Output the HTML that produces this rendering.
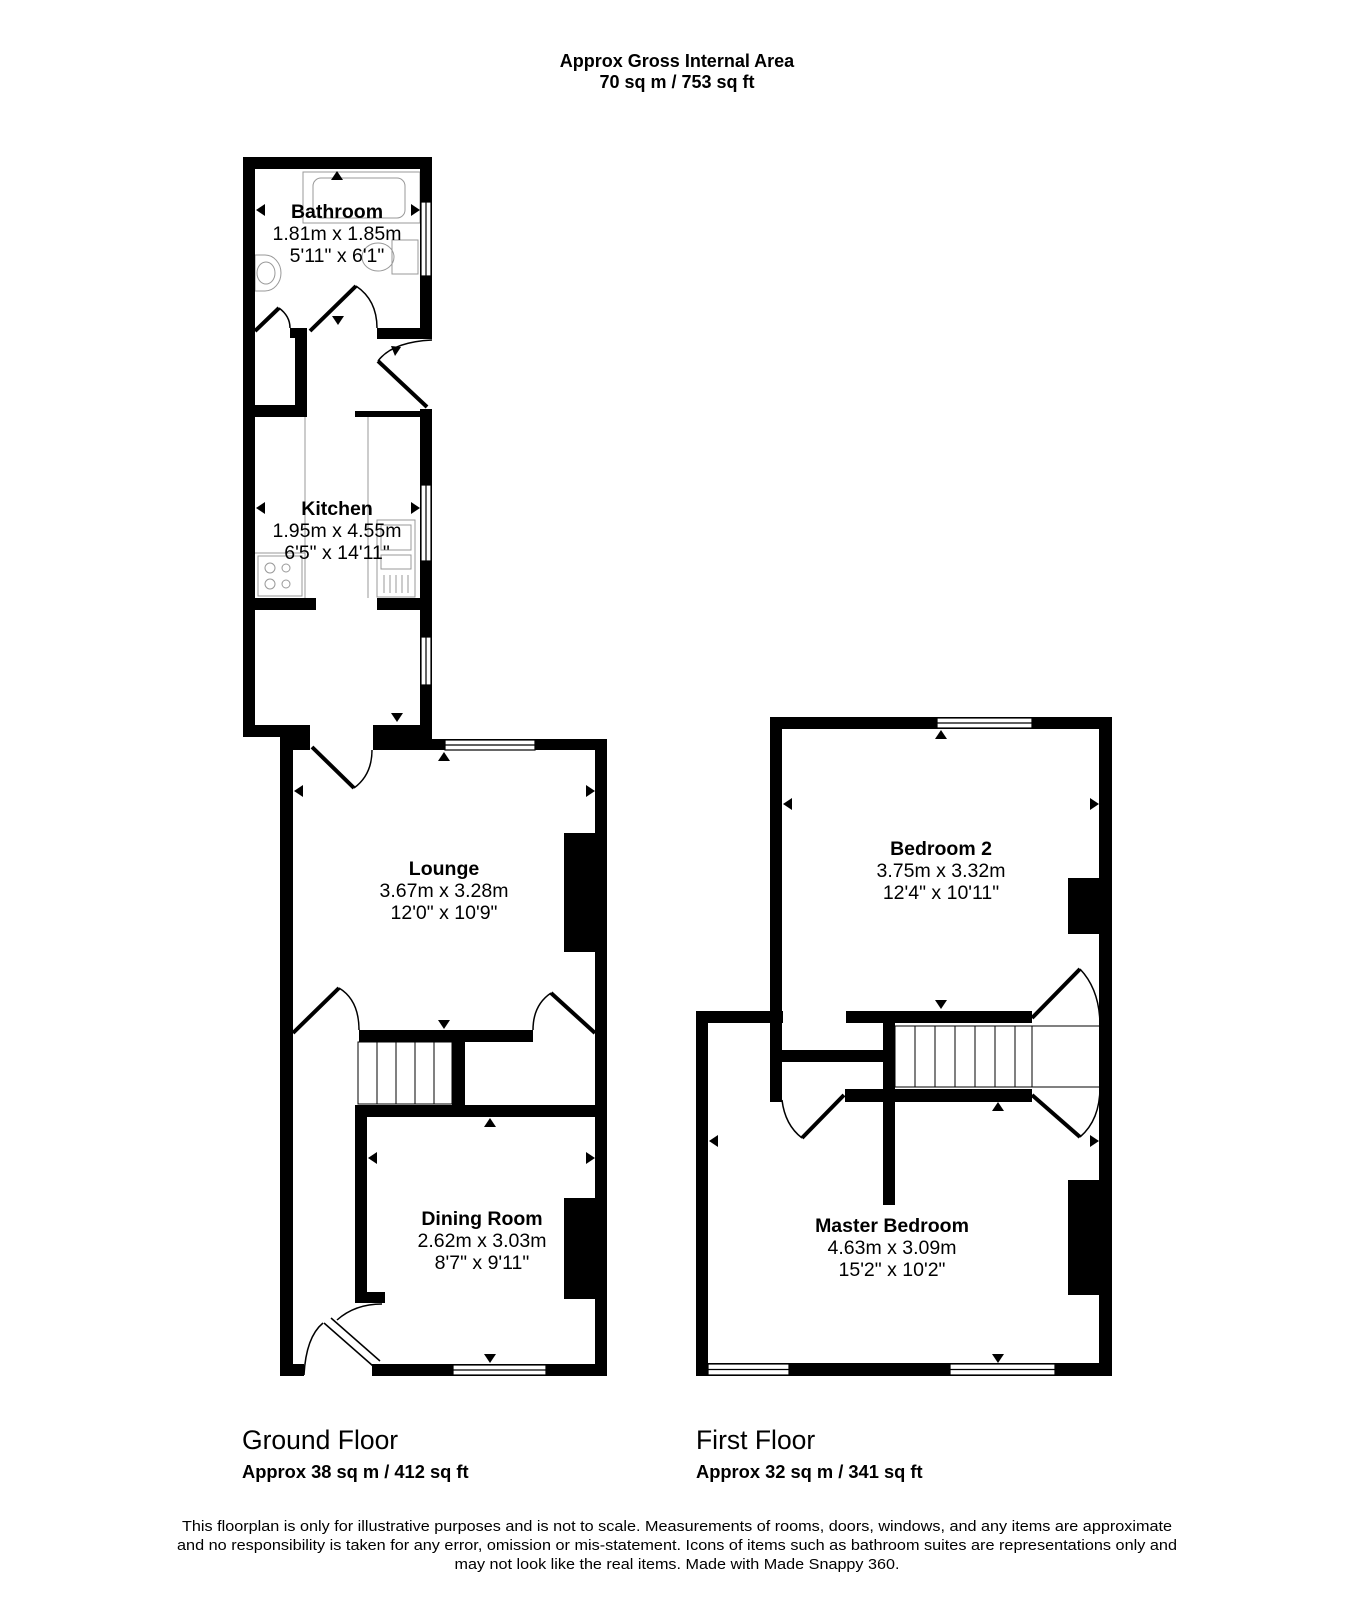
<!DOCTYPE html>
<html><head><meta charset="utf-8"><style>
html,body{margin:0;padding:0;background:#fff;}
svg{display:block;font-family:"Liberation Sans",Arial,sans-serif;}
</style></head><body>
<svg width="1354" height="1600" viewBox="0 0 1354 1600" xmlns="http://www.w3.org/2000/svg">
<rect width="1354" height="1600" fill="#fff"/>
<g font-weight="bold" font-size="18" text-anchor="middle" fill="#000">
<text x="677" y="67">Approx Gross Internal Area</text>
<text x="677" y="88">70 sq m / 753 sq ft</text>
</g>

<g fill="none" stroke="#999" stroke-width="1">
<rect x="303" y="172" width="117" height="51"/>
<rect x="313" y="178" width="92" height="40" rx="8"/>
<rect x="392" y="240" width="26" height="34"/>
<ellipse cx="378" cy="257" rx="16" ry="14"/>
<path d="M255 255 h10 a16 18 0 0 1 0 36 h-10 z"/>
<ellipse cx="266" cy="273" rx="9" ry="11"/>
<line x1="305" y1="417" x2="305" y2="598"/>
<line x1="368" y1="417" x2="368" y2="598"/>
<line x1="255" y1="553" x2="305" y2="553"/>
<rect x="258" y="556" width="44" height="40"/>
<circle cx="270" cy="568" r="5"/><circle cx="286" cy="568" r="4"/>
<circle cx="270" cy="584" r="5"/><circle cx="286" cy="584" r="4"/>
<rect x="377" y="520" width="38" height="77"/>
<rect x="381" y="525" width="30" height="25"/>
<rect x="381" y="555" width="30" height="14"/>
<path d="M384 575v18M390 575v18M396 575v18M402 575v18M408 575v18"/>
</g>

<g fill="#000">
<rect x="243" y="157" width="189" height="12"/>
<rect x="243" y="157" width="12" height="580"/>
<rect x="420" y="157" width="12" height="182"/>
<rect x="377" y="328" width="55" height="11"/>
<rect x="295" y="328" width="12" height="89"/>
<rect x="290" y="328" width="17" height="10"/>
<rect x="255" y="405" width="52" height="12"/>
<rect x="355" y="411" width="77" height="6"/>
<rect x="420" y="409" width="12" height="341"/>
<rect x="255" y="598" width="61" height="12"/>
<rect x="377" y="598" width="55" height="12"/>
<rect x="243" y="725" width="67" height="12"/>
<rect x="373" y="725" width="59" height="25"/>

<rect x="280" y="737" width="13" height="639"/>
<rect x="280" y="737" width="30" height="13"/>
<rect x="373" y="739" width="234" height="11"/>
<rect x="595" y="739" width="12" height="637"/>
<rect x="564" y="833" width="31" height="119"/>
<rect x="359" y="1030" width="174" height="12"/>
<rect x="452" y="1030" width="13" height="80"/>
<rect x="355" y="1105" width="252" height="12"/>
<rect x="355" y="1105" width="12" height="198"/>
<rect x="355" y="1292" width="30" height="11"/>
<rect x="564" y="1198" width="31" height="101"/>
<rect x="280" y="1364" width="24" height="12"/>
<rect x="372" y="1364" width="235" height="12"/>

<rect x="770" y="717" width="342" height="12"/>
<rect x="770" y="717" width="12" height="385"/>
<rect x="1099" y="717" width="13" height="659"/>
<rect x="1068" y="878" width="31" height="56"/>
<rect x="696" y="1011" width="87" height="12"/>
<rect x="696" y="1011" width="12" height="365"/>
<rect x="782" y="1050" width="101" height="12"/>
<rect x="846" y="1011" width="186" height="12"/>
<rect x="845" y="1089" width="187" height="13"/>
<rect x="883" y="1023" width="12" height="182"/>
<rect x="1068" y="1180" width="31" height="115"/>
<rect x="696" y="1363" width="416" height="13"/>
</g>

<g fill="#fff" stroke="#000" stroke-width="1.2">
<rect x="421" y="202" width="10" height="74"/>
<line x1="426" y1="202" x2="426" y2="276"/>
<rect x="421" y="485" width="10" height="76"/>
<line x1="426" y1="485" x2="426" y2="561"/>
<rect x="421" y="637" width="10" height="48"/>
<line x1="426" y1="637" x2="426" y2="685"/>
<rect x="445" y="740" width="90" height="10"/>
<line x1="445" y1="745" x2="535" y2="745"/>
<rect x="453" y="1365" width="93" height="10"/>
<line x1="453" y1="1370" x2="546" y2="1370"/>
<rect x="937" y="718" width="95" height="10"/>
<line x1="937" y1="723" x2="1032" y2="723"/>
<rect x="708" y="1364" width="81" height="11"/>
<line x1="708" y1="1369.5" x2="789" y2="1369.5"/>
<rect x="950" y="1364" width="105" height="11"/>
<line x1="950" y1="1369.5" x2="1055" y2="1369.5"/>
</g>

<g fill="none" stroke="#000" stroke-width="1">
<rect x="358" y="1042" width="94" height="62"/>
<path d="M377 1042v62M396 1042v62M415 1042v62M434 1042v62"/>
<rect x="895" y="1026" width="205" height="61"/>
<path d="M915 1026v61M935 1026v61M955 1026v61M975 1026v61M995 1026v61M1015 1026v61M1032 1026v61"/>
</g>

<g fill="none" stroke="#000" stroke-width="4">
<line x1="310" y1="331" x2="356" y2="286"/>
<line x1="255" y1="331" x2="279" y2="308"/>
<line x1="378" y1="361" x2="427" y2="407"/>
<line x1="312" y1="747" x2="354" y2="788"/>
<line x1="293" y1="1033" x2="339" y2="988"/>
<line x1="551" y1="993" x2="595" y2="1033"/>
<line x1="1032" y1="1018" x2="1080" y2="969"/>
<line x1="1032" y1="1095" x2="1080" y2="1137"/>
<line x1="844" y1="1095" x2="802" y2="1138"/>
</g>
<g fill="none" stroke="#000" stroke-width="1.5">
<line x1="324" y1="1323" x2="373" y2="1366"/>
<line x1="331" y1="1318" x2="380" y2="1361"/>
<path d="M356 286 Q377 300 377 328"/>
<path d="M279 308 Q290 316 290 328"/>
<path d="M378 361 Q392 342 432 340"/>
<path d="M354 788 Q372 775 372 750"/>
<path d="M339 988 Q359 1000 359 1030"/>
<path d="M551 993 Q533 1005 533 1030"/>
<path d="M304 1375 Q306 1337 323 1323"/>
<path d="M337 1320 Q355 1304 382 1304"/>
<path d="M1080 969 Q1100 990 1100 1026"/>
<path d="M1100 1087 Q1100 1120 1080 1137"/>
<path d="M782 1100 Q785 1125 802 1138"/>
</g>

<g fill="#000">
<path d="M337 171 l-6 9 h12z"/>
<path d="M256 210 l9 -6 v12z"/>
<path d="M420 210 l-9 -6 v12z"/>
<path d="M338 325 l-6 -9 h12z"/>
<path d="M256 508 l9 -6 v12z"/>
<path d="M420 508 l-9 -6 v12z"/>
<path d="M397 722 l-6 -9 h12z"/>
<path d="M391 346 l4 10 l6 -9z"/>
<path d="M444 752 l-6 9 h12z"/>
<path d="M294 791 l9 -6 v12z"/>
<path d="M595 791 l-9 -6 v12z"/>
<path d="M444 1029 l-6 -9 h12z"/>
<path d="M490 1118 l-6 9 h12z"/>
<path d="M368 1158 l9 -6 v12z"/>
<path d="M595 1158 l-9 -6 v12z"/>
<path d="M490 1363 l-6 -9 h12z"/>
<path d="M941 730 l-6 9 h12z"/>
<path d="M783 804 l9 -6 v12z"/>
<path d="M1099 804 l-9 -6 v12z"/>
<path d="M941 1009 l-6 -9 h12z"/>
<path d="M998 1102 l-6 9 h12z"/>
<path d="M709 1141 l9 -6 v12z"/>
<path d="M1099 1141 l-9 -6 v12z"/>
<path d="M998 1363 l-6 -9 h12z"/>
</g>

<g text-anchor="middle" fill="#000" font-size="19.5">
<text x="337" y="218" font-weight="bold">Bathroom</text>
<text x="337" y="240">1.81m x 1.85m</text>
<text x="337" y="262">5'11" x 6'1"</text>
<text x="337" y="515" font-weight="bold">Kitchen</text>
<text x="337" y="537">1.95m x 4.55m</text>
<text x="337" y="559">6'5" x 14'11"</text>
<text x="444" y="875" font-weight="bold">Lounge</text>
<text x="444" y="897">3.67m x 3.28m</text>
<text x="444" y="919">12'0" x 10'9"</text>
<text x="482" y="1225" font-weight="bold">Dining Room</text>
<text x="482" y="1247">2.62m x 3.03m</text>
<text x="482" y="1269">8'7" x 9'11"</text>
<text x="941" y="855" font-weight="bold">Bedroom 2</text>
<text x="941" y="877">3.75m x 3.32m</text>
<text x="941" y="899">12'4" x 10'11"</text>
<text x="892" y="1232" font-weight="bold">Master Bedroom</text>
<text x="892" y="1254">4.63m x 3.09m</text>
<text x="892" y="1276">15'2" x 10'2"</text>
</g>

<g fill="#000">
<text x="242" y="1449" font-size="26.5">Ground Floor</text>
<text x="242" y="1478" font-size="18.3" font-weight="bold">Approx 38 sq m / 412 sq ft</text>
<text x="696" y="1449" font-size="26.5">First Floor</text>
<text x="696" y="1478" font-size="18.3" font-weight="bold">Approx 32 sq m / 341 sq ft</text>
</g>

<g fill="#000" font-size="14.5" text-anchor="middle">
<text x="677" y="1531" textLength="990" lengthAdjust="spacingAndGlyphs">This floorplan is only for illustrative purposes and is not to scale. Measurements of rooms, doors, windows, and any items are approximate</text>
<text x="677" y="1550" textLength="1000" lengthAdjust="spacingAndGlyphs">and no responsibility is taken for any error, omission or mis-statement. Icons of items such as bathroom suites are representations only and</text>
<text x="677" y="1569" textLength="445" lengthAdjust="spacingAndGlyphs">may not look like the real items. Made with Made Snappy 360.</text>
</g>
</svg>
</body></html>
